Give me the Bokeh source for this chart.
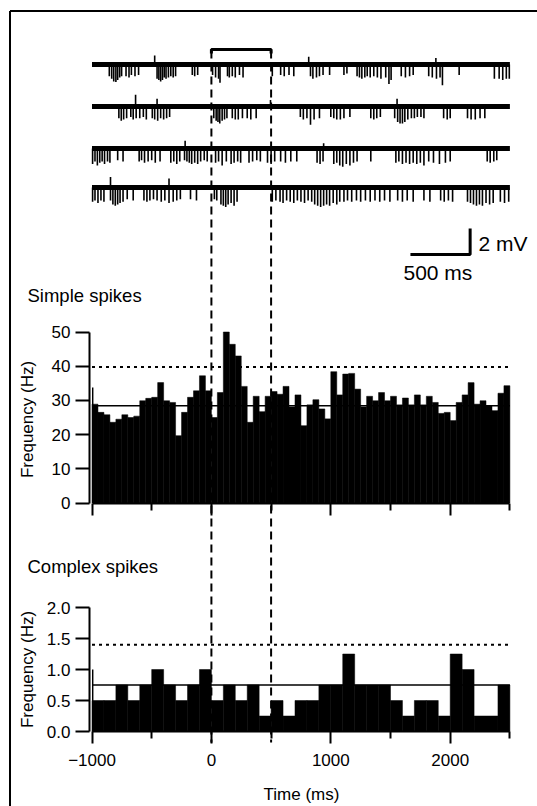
import numpy as np
from bokeh.plotting import figure
from bokeh.models import Range1d, LinearAxis, FixedTicker, CustomJSTickFormatter, NumeralTickFormatter
from bokeh.core.properties import value
from bokeh.embed import file_html
from bokeh.resources import INLINE

# ---------------- data ----------------
t_start, t_end = -1000, 2500
stim_window = [0, 500]

simple_bin_ms = 50
simple_rate = [28.9, 26.5, 25.8, 23.6, 24.5, 25.8, 25.0, 25.4, 29.9, 30.6,
               30.9, 35.2, 29.9, 29.4, 19.7, 26.5, 30.9, 32.8, 37.2, 32.8,
               25.0, 32.3, 50.0, 46.4, 43.0, 34.1, 23.6, 31.2, 26.7, 31.2,
               32.6, 31.8, 34.1, 28.1, 31.6, 22.6, 28.7, 30.2, 27.5, 24.6,
               38.4, 31.6, 37.7, 37.9, 33.3, 28.1, 31.2, 29.9, 32.3, 29.9,
               31.2, 28.7, 30.7, 28.7, 31.6, 28.7, 31.2, 29.4, 26.2, 26.5,
               24.1, 29.4, 31.6, 35.2, 28.9, 29.9, 28.5, 27.0, 32.1, 34.3]
simple_edge_rate = 33.8
simple_mean = 28.4
simple_threshold = 39.8

complex_bin_ms = 100
complex_rate = [0.5, 0.5, 0.75, 0.5, 0.75, 1.0, 0.75, 0.5, 0.75, 1.0,
                0.5, 0.75, 0.5, 0.75, 0.25, 0.5, 0.25, 0.5, 0.5, 0.75,
                0.75, 1.25, 0.75, 0.75, 0.75, 0.5, 0.25, 0.5, 0.5, 0.25,
                1.25, 1.0, 0.25, 0.25, 0.75]
complex_edge_rate = 1.0
complex_mean = 0.75
complex_threshold = 1.4

x_major_ticks = [-1000, 0, 1000, 2000]
x_minor_ticks = [-500, 500, 1500, 2500]
simple_y_ticks = [0, 10, 20, 30, 40, 50]
complex_y_ticks = [0.0, 0.5, 1.0, 1.5, 2.0]

# raw traces: (time ms, spike amplitude mV; negative = downward)
trace1_spikes = [(-855, -0.9), (-835, -1.1), (-818, -1.3), (-800, -1.35), (-785, -1.2), (-768, -1.0), (-752, -0.9),
                 (-715, -0.9), (-690, -1.0), (-670, -0.8), (-640, -0.9), (-610, -0.8),
                 (-455, -1.1), (-440, -1.2), (-425, -1.3), (-410, -1.2), (-395, -1.0), (-380, -1.1), (-360, -1.0),
                 (-340, -0.9), (-320, -1.0), (-300, -0.9), (-160, -0.8), (-140, -0.9), (-115, -0.8),
                 (10, -0.8), (35, -1.0), (60, -1.1), (72, -1.4), (135, -0.9), (150, -1.0), (175, -0.9),
                 (200, -1.0), (235, -0.8), (265, -1.0), (510, -0.9), (580, -0.8), (610, -0.9), (650, -0.8),
                 (690, -0.9), (830, -0.9), (850, -1.1), (880, -1.0), (905, -0.9), (935, -0.8), (990, -0.8),
                 (1110, -0.8), (1135, -0.7), (1220, -0.9), (1240, -1.0), (1260, -1.1), (1285, -1.0),
                 (1305, -0.9), (1330, -1.0), (1360, -0.9), (1390, -1.0), (1420, -1.1), (1460, -1.0),
                 (1487, -1.5), (1505, -1.2), (1590, -0.9), (1625, -1.0), (1660, -0.9), (1690, -0.8),
                 (1820, -0.9), (1850, -1.0), (1885, -1.1), (1915, -1.0), (1935, -1.6), (2075, -0.8),
                 (2370, -1.1), (2410, -1.1), (2440, -1.2), (2470, -1.1), (2495, -1.1),
                 (-475, 0.7), (815, 0.6), (1880, 0.5)]
trace2_spikes = [(-775, -0.9), (-755, -1.1), (-735, -1.0), (-710, -0.9), (-675, -0.8), (-655, -1.0), (-630, -0.9),
                 (-600, -0.9), (-570, -0.8), (-545, -1.0), (-495, -0.9), (-475, -1.0), (-450, -1.1), (-425, -0.9),
                 (-400, -1.0), (-375, -0.9), (-350, -0.8), (20, -0.9), (40, -1.1), (55, -1.2), (70, -1.3),
                 (90, -1.1), (110, -1.0), (130, -0.9), (175, -0.9), (200, -1.0), (225, -1.0), (260, -0.9),
                 (300, -0.9), (330, -1.0), (375, -0.9), (745, -0.8), (770, -1.0), (800, -0.9), (830, -1.4),
                 (860, -1.0), (905, -0.9), (1000, -0.8), (1025, -0.9), (1050, -1.0), (1080, -1.0), (1110, -0.9),
                 (1160, -0.8), (1335, -0.9), (1360, -1.0), (1385, -0.9), (1415, -0.8), (1535, -0.9),
                 (1560, -1.2), (1580, -1.3), (1600, -1.3), (1620, -1.2), (1645, -1.0), (1675, -0.9),
                 (1700, -0.9), (1725, -0.8), (1755, -0.8), (1780, -0.9), (1945, -0.9), (1975, -1.0),
                 (2000, -0.9), (2145, -0.9), (2175, -1.0), (2210, -1.0), (2250, -0.9), (2290, -0.9),
                 (-635, 0.9), (-455, 0.6), (495, 0.5), (1555, 0.6)]
trace3_spikes = [(-995, -1.2), (-975, -1.0), (-955, -1.3), (-935, -1.1), (-915, -1.0), (-895, -1.2), (-870, -1.0),
                 (-850, -1.1), (-785, -0.9), (-740, -1.0), (-605, -1.0), (-585, -0.9), (-560, -1.1), (-530, -1.0),
                 (-500, -0.9), (-470, -1.1), (-430, -1.0), (-340, -1.1), (-315, -1.0), (-290, -1.2), (-265, -1.0),
                 (-225, -0.9), (-205, -1.0), (-185, -1.1), (-165, -1.2), (-140, -1.1), (-115, -1.2), (-90, -1.0),
                 (-60, -0.9), (-35, -1.0), (35, -1.1), (60, -1.0), (90, -1.3), (125, -1.0), (165, -1.2),
                 (190, -1.1), (220, -1.0), (245, -1.1), (315, -1.1), (345, -1.0), (380, -0.9), (410, -1.0),
                 (470, -1.1), (500, -1.2), (530, -1.0), (580, -1.0), (620, -1.1), (665, -1.0), (715, -1.0),
                 (885, -1.1), (910, -1.2), (935, -1.0), (1025, -1.2), (1050, -1.1), (1075, -1.3), (1100, -1.4),
                 (1130, -1.2), (1160, -1.3), (1190, -1.1), (1220, -1.0), (1335, -1.0), (1545, -1.1),
                 (1570, -1.0), (1600, -1.2), (1630, -1.1), (1660, -1.2), (1690, -1.1), (1720, -1.2),
                 (1750, -1.1), (1780, -1.3), (1820, -1.0), (1860, -1.1), (1910, -1.2), (1960, -1.1),
                 (2000, -1.0), (2310, -1.0), (2335, -1.1), (2365, -1.0), (2390, -0.9),
                 (-220, 0.6), (940, 0.4)]
trace4_spikes = [(-995, -1.1), (-975, -1.0), (-950, -1.2), (-925, -1.0), (-900, -1.1), (-845, -1.0), (-825, -1.3),
                 (-805, -1.4), (-785, -1.3), (-765, -1.2), (-740, -1.1), (-705, -0.9), (-655, -1.0),
                 (-565, -1.0), (-540, -1.1), (-515, -1.0), (-485, -0.9), (-455, -1.0), (-420, -1.1),
                 (-390, -1.0), (-355, -1.2), (-320, -1.1), (-290, -1.0), (-260, -0.9), (-175, -0.9),
                 (-125, -1.0), (25, -0.9), (45, -1.0), (80, -1.3), (100, -1.4), (120, -1.5), (140, -1.3),
                 (165, -1.2), (190, -1.4), (215, -1.1), (510, -1.1), (540, -1.0), (575, -1.1), (600, -1.2),
                 (630, -1.0), (660, -1.1), (690, -1.2), (720, -1.0), (750, -1.1), (780, -1.2), (810, -1.0),
                 (840, -1.1), (865, -1.3), (890, -1.4), (915, -1.5), (940, -1.4), (965, -1.3), (990, -1.4),
                 (1020, -1.2), (1050, -1.3), (1075, -1.1), (1110, -1.1), (1140, -1.0), (1175, -1.1),
                 (1215, -1.0), (1250, -1.1), (1290, -1.0), (1330, -1.1), (1370, -1.0), (1410, -1.1),
                 (1450, -1.0), (1495, -1.1), (1560, -1.0), (1600, -1.1), (1640, -1.0), (1690, -1.1),
                 (1780, -1.0), (1830, -1.1), (1920, -1.0), (1950, -1.1), (1985, -1.0), (2020, -1.1),
                 (2145, -1.1), (2170, -1.2), (2195, -1.3), (2220, -1.4), (2245, -1.3), (2270, -1.4),
                 (2300, -1.2), (2330, -1.3), (2360, -1.2), (2420, -1.1), (2455, -1.2), (2490, -1.1),
                 (-845, 0.8), (-355, 0.7)]
traces = [trace1_spikes, trace2_spikes, trace3_spikes, trace4_spikes]

scale_bar_ms = 500
scale_bar_mv = 2

# ---------------- layout ----------------
W, H = 537, 806
PX_PER_MS = 0.1194
X0_PX = 91.5                    # canvas x of t = -1000 ms
x_start = -1000 - X0_PX / PX_PER_MS
x_end = x_start + W / PX_PER_MS

def vrange(zero_px, px_per_unit):
    return Range1d(start=(zero_px - H) / px_per_unit, end=zero_px / px_per_unit)

FONT = "Liberation Sans"
INK = "black"

p = figure(width=W, height=H, x_range=Range1d(x_start, x_end), y_range=Range1d(H, 0),
           x_axis_type=None, y_axis_type=None, toolbar_location=None,
           output_backend="svg", min_border=0, outline_line_color=None)
p.extra_x_ranges = {"px": Range1d(0, W)}
p.extra_y_ranges = {"ss": vrange(502.5, 3.42), "cs": vrange(731.0, 62.0), "mv": vrange(64.0, 13.0)}

# frame border (left and top edges visible)
p.segment(x0=[9.5, 9.5], y0=[10.5, 10.5], x1=[9.5, W + 10], y1=[H + 10, 10.5],
          x_range_name="px", line_color=INK, line_width=2)

# ---------------- raw traces ----------------
trace_offsets = [0.0, -3.23, -6.46, -9.46]
for off, spikes in zip(trace_offsets, traces):
    p.segment(x0=[t_start], x1=[t_end], y0=[off], y1=[off], y_range_name="mv",
              line_color=INK, line_width=5)
    ts = [s[0] for s in spikes]
    amps = [off + s[1] for s in spikes]
    p.segment(x0=ts, x1=ts, y0=[off] * len(ts), y1=amps, y_range_name="mv",
              line_color=INK, line_width=1.6)

# stimulus bracket
p.line(x=[stim_window[0], stim_window[0], stim_window[1], stim_window[1]],
       y=[0.85, 1.15, 1.15, 0.85], y_range_name="mv", line_color=INK, line_width=3)

# scale bar
sb_x = 1667
sb_y = -14.62
p.line(x=[sb_x, sb_x + scale_bar_ms, sb_x + scale_bar_ms], y=[sb_y, sb_y, sb_y + scale_bar_mv],
       y_range_name="mv", line_color=INK, line_width=3)
p.text(x=[478], y=[243], text=["%d mV" % scale_bar_mv], x_range_name="px", text_color=INK,
       text_font=value(FONT), text_font_size="21px", text_align="left", text_baseline="middle")
p.text(x=[403], y=[272], text=["%d ms" % scale_bar_ms], x_range_name="px", text_color=INK,
       text_font=value(FONT), text_font_size="21px", text_align="left", text_baseline="middle")

# ---------------- histograms ----------------
def histogram(rates, bin_ms, edge_rate, mean, thr, rname):
    lefts = t_start + bin_ms * np.arange(len(rates))
    p.quad(left=lefts, right=lefts + bin_ms, bottom=0, top=rates, y_range_name=rname,
           fill_color=INK, line_color=INK, line_width=0.5)
    p.quad(left=[t_start], right=[t_start + 12], bottom=[0], top=[edge_rate], y_range_name=rname,
           fill_color=INK, line_color=None)
    p.segment(x0=[t_start], x1=[t_end], y0=[mean], y1=[mean], y_range_name=rname,
              line_color=INK, line_width=1.5)
    p.segment(x0=[t_start], x1=[t_end], y0=[thr], y1=[thr], y_range_name=rname,
              line_color=INK, line_width=2, line_dash="3 4")

histogram(simple_rate, simple_bin_ms, simple_edge_rate, simple_mean, simple_threshold, "ss")
histogram(complex_rate, complex_bin_ms, complex_edge_rate, complex_mean, complex_threshold, "cs")

# stimulus window dashed verticals
p.segment(x0=stim_window, x1=stim_window, y0=[50, 50], y1=[742, 742],
          line_color=INK, line_width=2, line_dash="8 5")

# ---------------- axes ----------------
Y_AXIS_AT = -1000 - 2.5 / PX_PER_MS

def yaxis(rname, ticks, top, fmt):
    ax = LinearAxis(y_range_name=rname, fixed_location=Y_AXIS_AT, bounds=(0, top),
                    ticker=FixedTicker(ticks=ticks), formatter=fmt,
                    major_tick_out=14, major_tick_in=0, minor_tick_out=0, minor_tick_in=0,
                    axis_line_width=2, major_tick_line_width=2,
                    axis_line_color=INK, major_tick_line_color=INK,
                    major_label_text_color=INK,
                    major_label_text_font=FONT, major_label_text_font_size="17px",
                    major_label_standoff=5)
    p.add_layout(ax, "left")

yaxis("ss", simple_y_ticks, 50, NumeralTickFormatter(format="0"))
yaxis("cs", complex_y_ticks, 2, NumeralTickFormatter(format="0.0"))

def xaxis(loc, fmt):
    ax = LinearAxis(fixed_location=loc, bounds=(t_start, t_end),
                    ticker=FixedTicker(ticks=x_major_ticks, minor_ticks=x_minor_ticks),
                    formatter=fmt, major_tick_out=12, major_tick_in=0,
                    minor_tick_out=7, minor_tick_in=0,
                    axis_line_width=2, major_tick_line_width=2, minor_tick_line_width=2,
                    axis_line_color=INK, major_tick_line_color=INK, minor_tick_line_color=INK,
                    major_label_text_color=INK,
                    major_label_text_font=FONT, major_label_text_font_size="17px",
                    major_label_standoff=10)
    p.add_layout(ax, "below")

xaxis(502.5, CustomJSTickFormatter(code="return ''"))
xaxis(731.0, CustomJSTickFormatter(code="return tick < 0 ? '\\u2212' + Math.abs(tick) : String(tick)"))

# ---------------- texts ----------------
p.text(x=[27, 27], y=[295, 566], text=["Simple spikes", "Complex spikes"], x_range_name="px",
       text_color=INK, text_font=value(FONT), text_font_size="18.5px",
       text_align="left", text_baseline="middle")
p.text(x=[27, 27], y=[419, 669], text=["Frequency (Hz)", "Frequency (Hz)"], x_range_name="px",
       angle=np.pi / 2, text_color=INK, text_font=value(FONT), text_font_size="17px",
       text_align="center", text_baseline="middle")
p.text(x=[301], y=[794], text=["Time (ms)"], x_range_name="px", text_color=INK,
       text_font=value(FONT), text_font_size="17px", text_align="center", text_baseline="middle")

open("out.html", "w").write(file_html(p, INLINE))
